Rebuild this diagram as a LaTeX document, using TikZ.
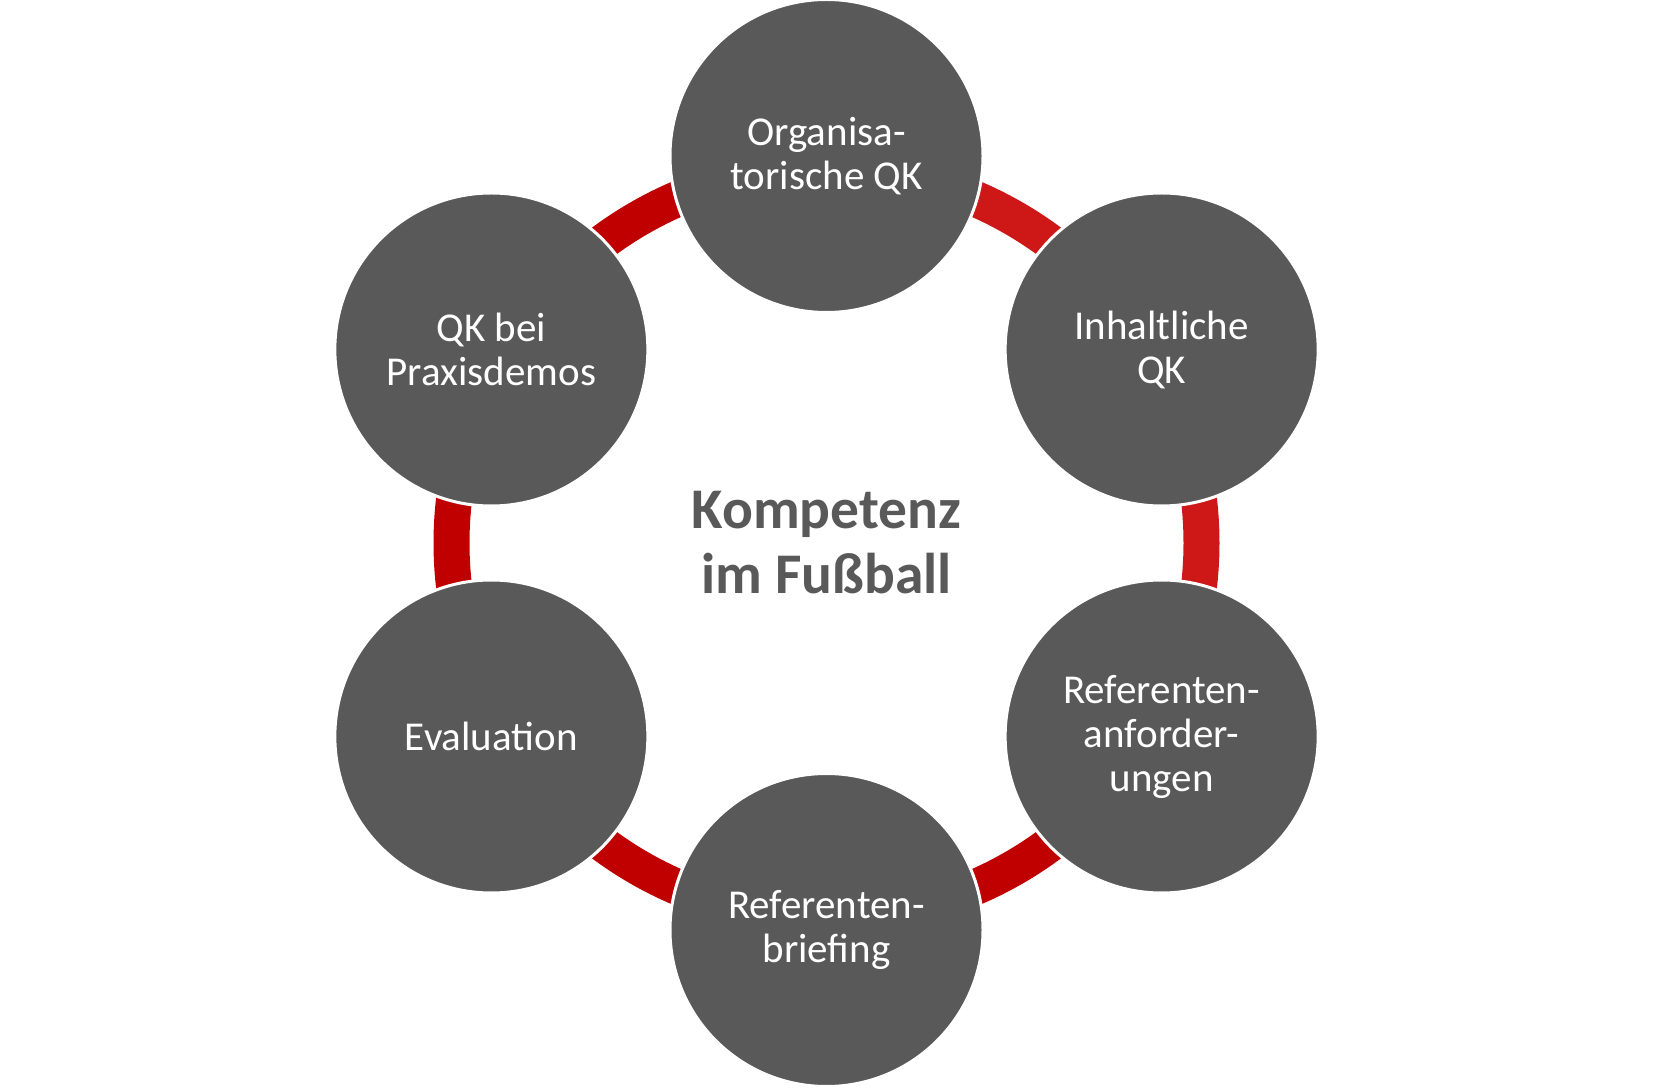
\documentclass[tikz,border=0pt]{standalone}
\usepackage{fontspec}
\setmainfont{Carlito}
\usetikzlibrary{calc}
\definecolor{bubblegray}{HTML}{595959}
\definecolor{ringdark}{HTML}{C00000}
\definecolor{ringbright}{HTML}{CE1818}
\begin{document}
\begin{tikzpicture}[x=1pt,y=1pt,
  bubble/.style={circle, fill=bubblegray, draw=white, line width=3pt, minimum size=313pt, inner sep=0pt,
    text=white, align=center, font=\fontsize{41}{44}\selectfont},
  ringseg/.style={line width=36pt, line cap=butt},
  title/.style={text=bubblegray, align=center, font=\fontsize{57.5}{65}\selectfont\bfseries}]
\useasboundingbox (0,0) rectangle (1655,1088);
\coordinate (c) at (826.5,545);
% ring segments
\draw[ringseg, ringbright] (c) ++(90:375) arc[start angle=90, end angle=30, radius=375];
\draw[ringseg, ringbright] (c) ++(30:375) arc[start angle=30, end angle=-30, radius=375];
\draw[ringseg, ringdark] (c) ++(-30:375) arc[start angle=-30, end angle=-90, radius=375];
\draw[ringseg, ringdark] (c) ++(-90:375) arc[start angle=-90, end angle=-150, radius=375];
\draw[ringseg, ringdark] (c) ++(-150:375) arc[start angle=-150, end angle=-210, radius=375];
\draw[ringseg, ringdark] (c) ++(150:375) arc[start angle=150, end angle=90, radius=375];
% bubbles
\node[bubble] (org) at ($(c)+(90:387)$) {Organisa-\\torische QK};
\node[bubble] (inh) at ($(c)+(30:387)$) {Inhaltliche\\QK};
\node[bubble] (refa) at ($(c)+(-30:387)$) {Referenten-\\anforder-\\ungen};
\node[bubble] (refb) at ($(c)+(-90:387)$) {Referenten-\\briefing};
\node[bubble] (eval) at ($(c)+(-150:387)$) {Evaluation};
\node[bubble] (prax) at ($(c)+(150:387)$) {QK bei\\Praxisdemos};
\node[title] (mid) at (c) {Kompetenz\\im Fußball};
\end{tikzpicture}
\end{document}
